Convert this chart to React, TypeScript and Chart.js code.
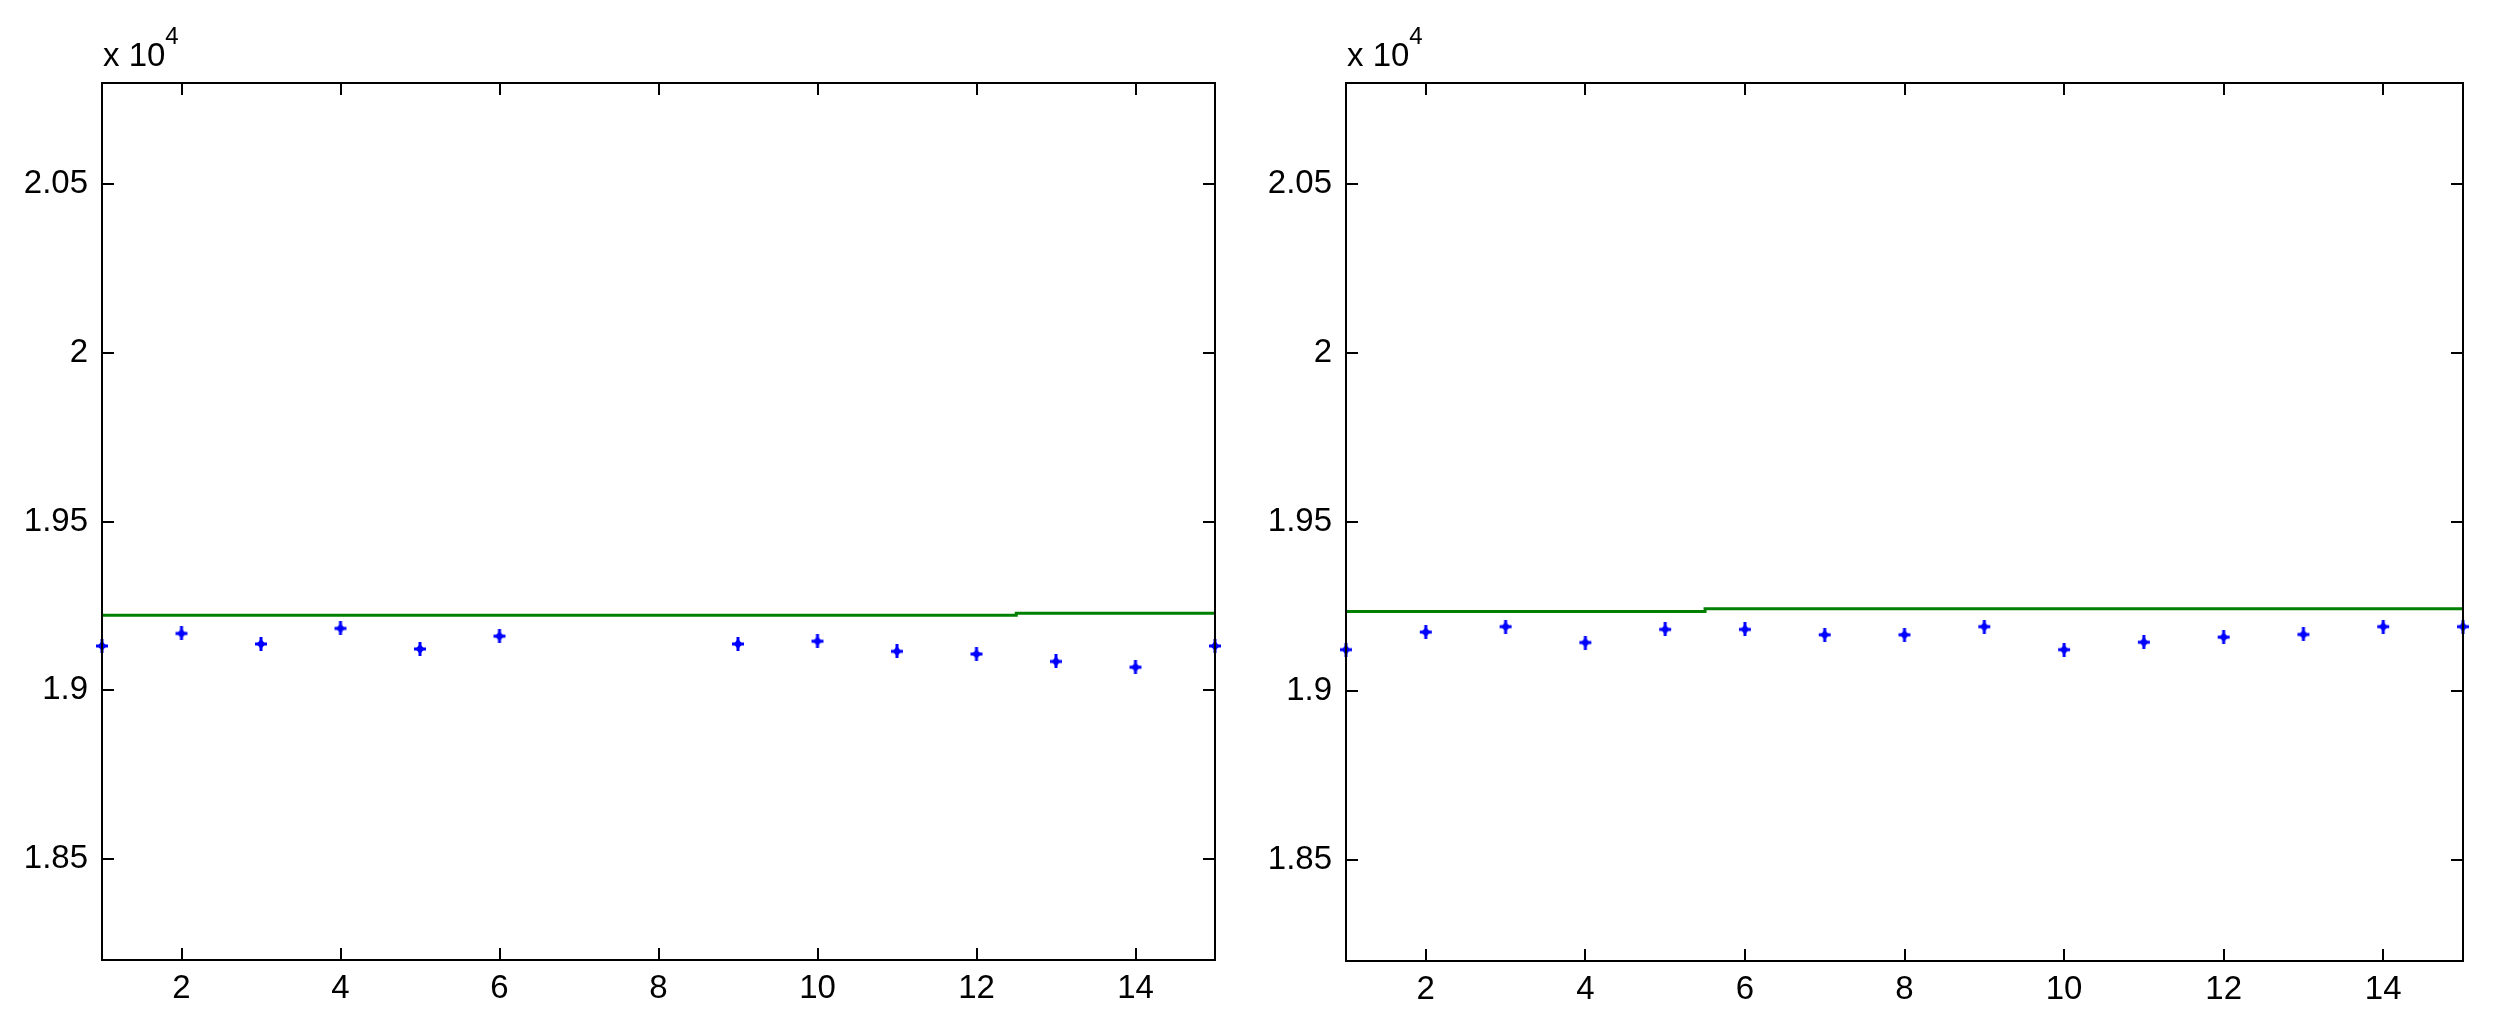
import React, { useEffect, useRef } from "react";
import { Chart, registerables } from "chart.js";

Chart.register(...registerables);

// ---- data ----
const xValues = [1, 2, 3, 4, 5, 6, 7, 8, 9, 10, 11, 12, 13, 14, 15];
const xTicks = [2, 4, 6, 8, 10, 12, 14];
const yTicks = [18500, 19000, 19500, 20000, 20500];
const yMin = 18200;
const yMax = 20800;

const leftPoints: (number | null)[] = [19131, 19168, 19137, 19183, 19122, 19160, null, null, 19137, 19145, 19115, 19107, 19085, 19068, 19131];
const leftLevel = [19222, 19222, 19222, 19222, 19222, 19222, 19222, 19222, 19222, 19222, 19222, 19222, 19228, 19228, 19228];

const rightPoints: (number | null)[] = [19122, 19174, 19190, 19143, 19182, 19182, 19166, 19166, 19190, 19122, 19144, 19159, 19167, 19190, 19190];
const rightLevel = [19235, 19235, 19235, 19235, 19235, 19243, 19243, 19243, 19243, 19243, 19243, 19243, 19243, 19243, 19243];

const FONT = "'Liberation Sans', Arial, Helvetica, sans-serif";

function makeMarker(): HTMLCanvasElement {
  const c = document.createElement("canvas");
  c.width = 14;
  c.height = 14;
  const ctx = c.getContext("2d")!;
  ctx.fillStyle = "#0000ff";
  ctx.fillRect(5.5, 0, 3, 14);
  ctx.fillRect(1, 5.5, 12, 3);
  ctx.beginPath();
  ctx.moveTo(7, 2);
  ctx.lineTo(11.5, 7);
  ctx.lineTo(7, 12);
  ctx.lineTo(2.5, 7);
  ctx.closePath();
  ctx.fill();
  return c;
}

const matlabAxes = {
  id: "matlabAxes",
  afterDraw(chart: any) {
    const { ctx, chartArea } = chart;
    const { left, right, top, bottom } = chartArea;
    const xs = chart.scales.x;
    const ys = chart.scales.y;
    const tl = 12;
    ctx.save();
    ctx.strokeStyle = "#000";
    ctx.lineWidth = 2;
    ctx.strokeRect(left, top, right - left, bottom - top);
    ctx.beginPath();
    xs.ticks.forEach((t: any) => {
      const px = Math.round(xs.getPixelForValue(t.value));
      ctx.moveTo(px, bottom);
      ctx.lineTo(px, bottom - tl);
      ctx.moveTo(px, top);
      ctx.lineTo(px, top + tl);
    });
    ys.ticks.forEach((t: any) => {
      const py = Math.round(ys.getPixelForValue(t.value));
      ctx.moveTo(left, py);
      ctx.lineTo(left + tl, py);
      ctx.moveTo(right, py);
      ctx.lineTo(right - tl, py);
    });
    ctx.stroke();
    // exponent label
    ctx.fillStyle = "#000";
    ctx.textBaseline = "alphabetic";
    ctx.textAlign = "left";
    ctx.font = `33px ${FONT}`;
    const base = "x 10";
    ctx.fillText(base, left + 1, 66);
    const w = ctx.measureText(base).width;
    ctx.font = `24px ${FONT}`;
    ctx.fillText("4", left + 1 + w, 44);
    ctx.restore();
  },
};

type PanelProps = {
  left: number;
  width: number;
  yAxisWidth: number;
  padRight: number;
  padTop: number;
  xAxisHeight: number;
  points: (number | null)[];
  level: number[];
};

function Panel(p: PanelProps) {
  const ref = useRef<HTMLCanvasElement>(null);
  useEffect(() => {
    const marker = makeMarker();
    const chart = new Chart(ref.current!, {
      type: "line",
      data: {
        datasets: [
          {
            data: xValues.map((x, i) => ({ x, y: p.level[i] })),
            borderColor: "#008000",
            borderWidth: 3,
            stepped: "middle",
            pointRadius: 0,
            fill: false,
          },
          {
            data: xValues.map((x, i) => ({ x, y: p.points[i] })),
            showLine: false,
            pointStyle: marker,
            pointRadius: 6,
            clip: false,
          },
        ],
      } as any,
      plugins: [matlabAxes],
      options: {
        animation: false,
        responsive: false,
        maintainAspectRatio: false,
        layout: { padding: { left: 0, right: p.padRight, top: p.padTop, bottom: 0 } },
        plugins: { legend: { display: false }, tooltip: { enabled: false } },
        scales: {
          x: {
            type: "linear",
            min: 1,
            max: 15,
            grid: { display: false, drawTicks: false },
            border: { display: false },
            afterBuildTicks: (s: any) => {
              s.ticks = xTicks.map((v) => ({ value: v }));
            },
            afterFit: (s: any) => {
              s.height = p.xAxisHeight;
            },
            ticks: {
              color: "#000",
              padding: 9,
              maxRotation: 0,
              font: { family: FONT, size: 33 },
              callback: (v: any) => String(v),
            },
          },
          y: {
            type: "linear",
            min: yMin,
            max: yMax,
            grid: { display: false, drawTicks: false },
            border: { display: false },
            afterBuildTicks: (s: any) => {
              s.ticks = yTicks.map((v) => ({ value: v }));
            },
            afterFit: (s: any) => {
              s.width = p.yAxisWidth;
            },
            ticks: {
              color: "#000",
              padding: 14,
              font: { family: FONT, size: 33 },
              callback: (v: any) => String(Math.round(v) / 10000),
            },
          },
        },
      } as any,
    });
    return () => chart.destroy();
  }, []);
  return (
    <canvas
      ref={ref}
      width={p.width}
      height={1028}
      style={{ position: "absolute", left: p.left, top: 0, width: p.width, height: 1028, display: "block" }}
    />
  );
}

export default function App() {
  return (
    <div style={{ position: "absolute", left: 0, top: 0, width: 2495, height: 1028, background: "#fff", overflow: "hidden" }}>
      <Panel left={0} width={1240} yAxisWidth={102} padRight={25} padTop={83} xAxisHeight={68} points={leftPoints} level={leftLevel} />
      <Panel left={1240} width={1255} yAxisWidth={106} padRight={32} padTop={83} xAxisHeight={67} points={rightPoints} level={rightLevel} />
    </div>
  );
}
